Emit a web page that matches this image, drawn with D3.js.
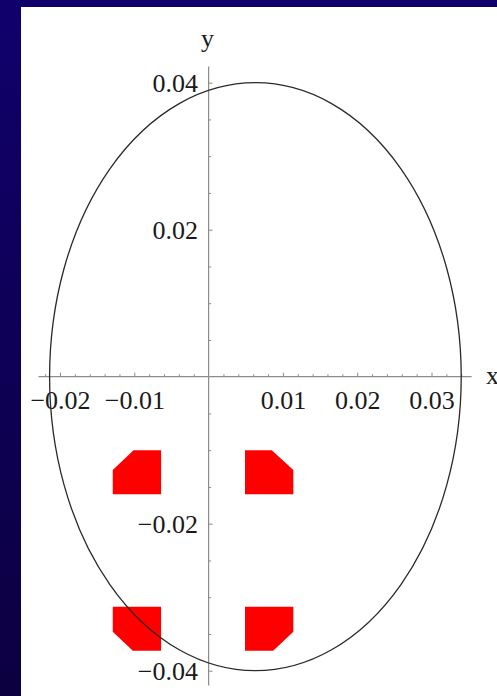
<!DOCTYPE html>
<meta charset="utf-8">
<script src="https://d3js.org/d3.v7.min.js"></script>
<style>
  body { margin: 0; }
  .tick text { font-family: "Liberation Serif", "DejaVu Serif", serif; font-size: 26px; fill: #1a1a1a; }
  .lbl { font-family: "Liberation Serif", "DejaVu Serif", serif; font-size: 26px; fill: #1a1a1a; }
</style>
<svg id="chart" width="497" height="696"></svg>
<script>

// tick values
var xMajor = [-0.02, -0.01, 0.01, 0.02, 0.03];
var xMinor = [-0.022, -0.018, -0.016, -0.014, -0.012, -0.008, -0.006, -0.004, -0.002,
              0.002, 0.004, 0.006, 0.008, 0.012, 0.014, 0.016, 0.018, 0.022, 0.024,
              0.026, 0.028, 0.032, 0.034];
var yMajor = [-0.04, -0.02, 0.02, 0.04];
var yMinor = [-0.035, -0.03, -0.025, -0.015, -0.01, -0.005, 0.005, 0.01, 0.015, 0.025, 0.03, 0.035];

// axis extents (data units)
var xExtent = [-0.0229, 0.0354];
var yExtent = [-0.042, 0.0422];

// ellipse: center and semi axes
var ellipseCenter = [0.0063, 0.0];
var ellipseRadii = [0.0277, 0.04];

// red regions (polygon vertices)
var regions = [
  [[-0.0101, -0.01], [-0.0064, -0.01], [-0.0064, -0.016], [-0.0129, -0.016], [-0.0129, -0.0127]],
  [[0.0049, -0.01], [0.0085, -0.01], [0.0114, -0.0127], [0.0114, -0.016], [0.0049, -0.016]],
  [[-0.0129, -0.0313], [-0.0064, -0.0313], [-0.0064, -0.0373], [-0.0102, -0.0373], [-0.0129, -0.0347]],
  [[0.0049, -0.0313], [0.0114, -0.0313], [0.0114, -0.0347], [0.0087, -0.0373], [0.0049, -0.0373]]
];

var svg = d3.select("#chart");

// slide background
var defs = svg.append("defs");
var grad = defs.append("linearGradient")
    .attr("id", "bg").attr("x1", 0).attr("y1", 0).attr("x2", 0).attr("y2", 1);
grad.append("stop").attr("offset", "0%").attr("stop-color", "#10006c");
grad.append("stop").attr("offset", "100%").attr("stop-color", "#0c0040");
svg.append("rect").attr("width", 497).attr("height", 696).attr("fill", "url(#bg)");
svg.append("rect").attr("x", 21).attr("y", 7).attr("width", 476).attr("height", 689).attr("fill", "#fff");

var x = d3.scaleLinear().domain([-0.02, 0.03]).range([60, 431.5]);
var y = d3.scaleLinear().domain([-0.04, 0.04]).range([670.7, 82.7]);

// red regions
svg.append("g").selectAll("path")
  .data(regions)
  .enter()
  .append("path")
    .attr("d", d => d3.line().x(p => x(p[0])).y(p => y(p[1])).curve(d3.curveLinearClosed)(d))
    .attr("fill", "#ff0000");

// axis lines
svg.append("line")
    .attr("x1", x(xExtent[0])).attr("x2", x(xExtent[1]))
    .attr("y1", y(0)).attr("y2", y(0))
    .attr("stroke", "#8c8c8c").attr("stroke-width", 1.2);
svg.append("line")
    .attr("x1", x(0)).attr("x2", x(0))
    .attr("y1", y(yExtent[0])).attr("y2", y(yExtent[1]))
    .attr("stroke", "#8c8c8c").attr("stroke-width", 1.2);

// x axis: minor and major ticks pointing up, labels below
var gxMinor = svg.append("g")
    .attr("transform", "translate(0," + y(0) + ")")
    .call(d3.axisBottom(x).tickValues(xMinor).tickSize(-2.5).tickFormat(""));
var gx = svg.append("g")
    .attr("transform", "translate(0," + y(0) + ")")
    .call(d3.axisBottom(x).tickValues(xMajor).tickSize(-4).tickPadding(13.5).tickFormat(d3.format(".2f")));

// y axis: ticks pointing right, labels left
var gyMinor = svg.append("g")
    .attr("transform", "translate(" + x(0) + ",0)")
    .call(d3.axisLeft(y).tickValues(yMinor).tickSize(-2.5).tickFormat(""));
var gy = svg.append("g")
    .attr("transform", "translate(" + x(0) + ",0)")
    .call(d3.axisLeft(y).tickValues(yMajor).tickSize(-4).tickPadding(10.6).tickFormat(d3.format(".2f")));

svg.selectAll(".domain").remove();
svg.selectAll(".tick line").attr("stroke", "#8c8c8c");
gx.selectAll(".tick text").attr("fill", "#1a1a1a");
gy.selectAll(".tick text").attr("fill", "#1a1a1a");

// ellipse
svg.append("ellipse")
    .attr("cx", x(ellipseCenter[0]))
    .attr("cy", y(ellipseCenter[1]))
    .attr("rx", x(ellipseRadii[0]) - x(0))
    .attr("ry", y(0) - y(ellipseRadii[1]))
    .attr("fill", "none")
    .attr("stroke", "#2a2a2a")
    .attr("stroke-width", 1.3);

// axis names
svg.append("text").attr("class", "lbl")
    .attr("x", x(0) - 1).attr("y", 47)
    .attr("text-anchor", "middle")
    .text("y");
svg.append("text").attr("class", "lbl")
    .attr("x", 486).attr("y", y(0) + 7)
    .text("x");

</script>
